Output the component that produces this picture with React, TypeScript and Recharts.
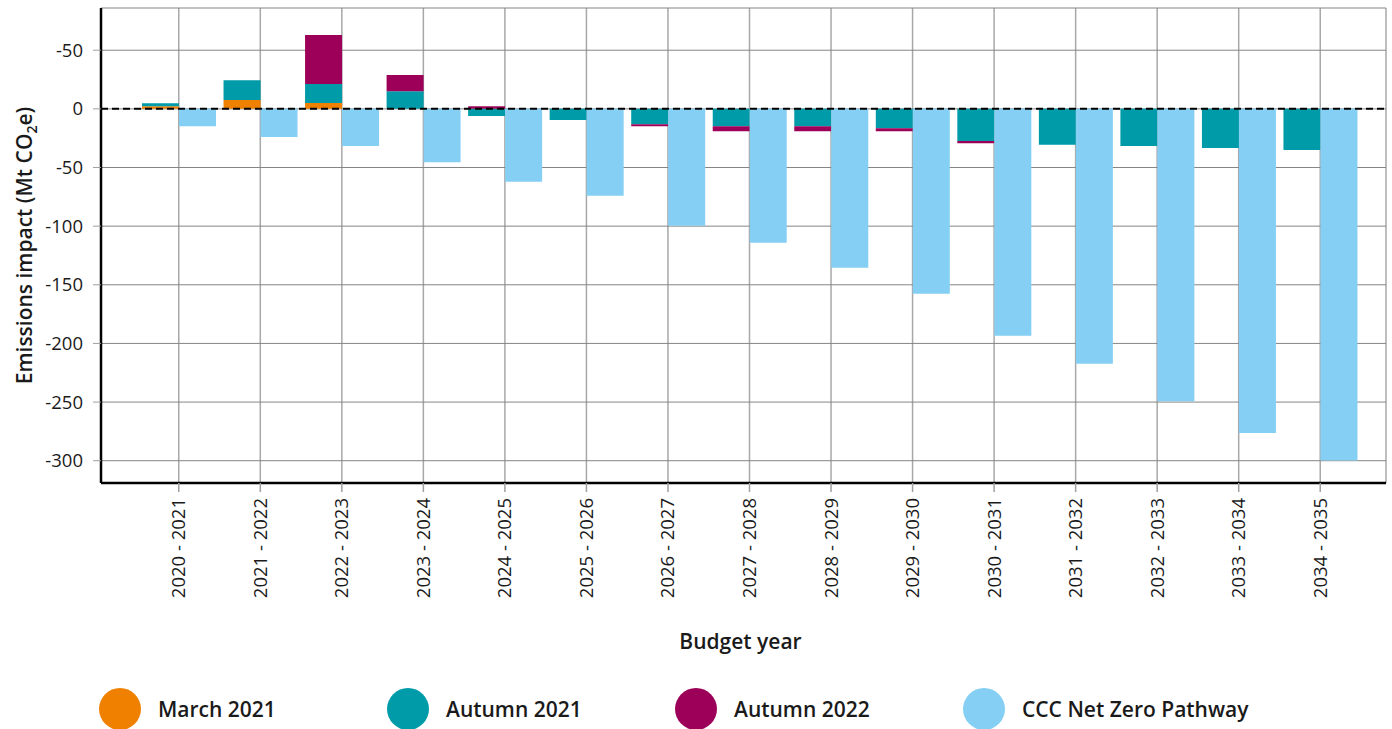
import React from 'react';
import { BarChart, Bar, XAxis, YAxis, CartesianGrid, ReferenceLine, Label } from 'recharts';

const years = [
  '2020 - 2021', '2021 - 2022', '2022 - 2023', '2023 - 2024', '2024 - 2025',
  '2025 - 2026', '2026 - 2027', '2027 - 2028', '2028 - 2029', '2029 - 2030',
  '2030 - 2031', '2031 - 2032', '2032 - 2033', '2033 - 2034', '2034 - 2035',
];

// Mt CO2e, positive = increase in emissions
const march2021 = [2.3, 7.6, 4.9, 0, 0, 0, 0, 0, 0, 0, 0, 0, 0, 0, 0];
const autumn2021 = [2.5, 16.8, 16.2, 15.1, -6.1, -9.6, -13.1, -14.8, -14.8, -16.5, -27.3, -30.7, -31.6, -33.3, -35.0];
const autumn2022 = [0, 0, 41.8, 13.7, 2.3, 0, -1.7, -4.3, -4.3, -2.6, -2.0, 0, 0, 0, 0];
const cccPathway = [-14.8, -23.9, -31.6, -45.5, -62.1, -74.1, -99.7, -114.2, -135.5, -157.7, -193.5, -217.4, -249.3, -276.3, -299.8];

const yTicks = [-300, -250, -200, -150, -100, -50, 0, 50];

const series = [
  { key: 'march2021', name: 'March 2021', color: '#F08000', stack: 'measures' },
  { key: 'autumn2021', name: 'Autumn 2021', color: '#009BA8', stack: 'measures' },
  { key: 'autumn2022', name: 'Autumn 2022', color: '#9C0059', stack: 'measures' },
  { key: 'ccc', name: 'CCC Net Zero Pathway', color: '#84CFF3', stack: 'ccc' },
];

const chartData = years.map((year, i) => ({
  year,
  march2021: march2021[i],
  autumn2021: autumn2021[i],
  autumn2022: autumn2022[i],
  ccc: cccPathway[i],
}));

const FONT = '"Open Sans", "Noto Sans", sans-serif';
const TEXT = '#1a1a1a';

const XTick = ({ x, y, payload }: any) => (
  <g transform={`translate(${x},${y})`}>
    <text
      transform="rotate(-90)"
      x={-4}
      y={0}
      dy="0.35em"
      textAnchor="end"
      fill={TEXT}
      fontSize={18.5}
      fontFamily={FONT}
    >
      {payload.value}
    </text>
  </g>
);

const YTitle = ({ viewBox }: any) => {
  const cy = viewBox.y + viewBox.height / 2;
  return (
    <text
      transform={`translate(32, ${cy}) rotate(-90)`}
      textAnchor="middle"
      fill={TEXT}
      fontSize={21}
      fontWeight={600}
      fontFamily={FONT}
    >
      Emissions impact (Mt CO
      <tspan fontSize={14} dy={5}>2</tspan>
      <tspan dy={-5}>e)</tspan>
    </text>
  );
};

const XTitle = ({ viewBox }: any) => (
  <text
    x={viewBox.x + viewBox.width / 2 - 3}
    y={viewBox.y + 166}
    textAnchor="middle"
    fill={TEXT}
    fontSize={21}
    fontWeight={600}
    fontFamily={FONT}
  >
    Budget year
  </text>
);

const App: React.FC = () => {
  return (
    <div style={{ position: 'absolute', left: 0, top: 0, width: 1392, height: 729, background: '#fff', fontFamily: FONT, overflow: 'hidden' }}>
      <BarChart
        width={1392}
        height={729}
        data={chartData}
        stackOffset="sign"
        barGap={0}
        barSize={37}
        margin={{ top: 8, right: 6, bottom: 116, left: 0 }}
      >
        {series.map((s) => (
          <Bar
            key={s.key}
            dataKey={s.key}
            name={s.name}
            stackId={s.stack}
            fill={s.color}
            isAnimationActive={false}
          />
        ))}
        <CartesianGrid horizontal={false} vertical stroke="#a8a8a8" strokeWidth={1.5} />
        <CartesianGrid horizontal vertical={false} stroke="#858585" strokeWidth={1} />
        <XAxis
          dataKey="year"
          interval={0}
          tick={<XTick />}
          tickSize={9}
          tickLine={{ stroke: '#a0a0a0', strokeWidth: 1.5 }}
          axisLine={{ stroke: '#000', strokeWidth: 2.5 }}
          padding={{ left: 37, right: 25 }}
          height={130}
        >
          <Label content={<XTitle />} />
        </XAxis>
        <YAxis
          type="number"
          domain={[-319, 86]}
          ticks={yTicks}
          interval={0}
          width={101}
          tickSize={8}
          tickMargin={10}
          tickFormatter={(v: number) => (v > 0 ? `-${v}` : `${v}`)}
          tick={{ fill: TEXT, fontSize: 18.5, fontFamily: FONT }}
          tickLine={{ stroke: '#a0a0a0' }}
          axisLine={{ stroke: '#000', strokeWidth: 2.5 }}
        >
          <Label content={<YTitle />} />
        </YAxis>
        <ReferenceLine y={0} stroke="#000" strokeWidth={2} strokeDasharray="7 4" />
      </BarChart>
      <div style={{ position: 'absolute', left: 99, top: 688, display: 'flex' }}>
        {series.map((s) => (
          <div key={s.key} style={{ width: 288, display: 'flex', alignItems: 'center' }}>
            <div style={{ width: 42, height: 42, borderRadius: '50%', background: s.color, flex: 'none' }} />
            <span style={{ marginLeft: 17, fontSize: 21, fontWeight: 600, color: TEXT, lineHeight: '42px', whiteSpace: 'nowrap' }}>
              {s.name}
            </span>
          </div>
        ))}
      </div>
    </div>
  );
};

export default App;
